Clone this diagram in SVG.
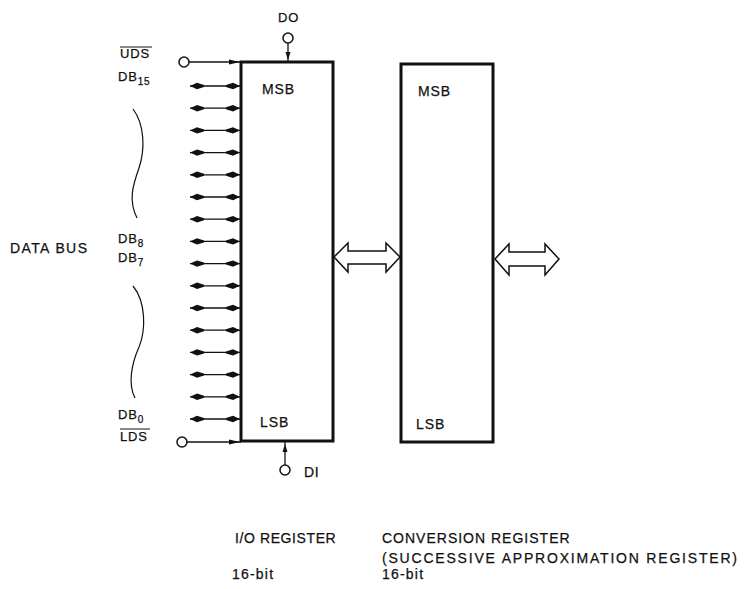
<svg xmlns="http://www.w3.org/2000/svg" width="744" height="589" viewBox="0 0 744 589">
<style>
text{font-family:"Liberation Sans",Arial,sans-serif;fill:#111;stroke:#111;stroke-width:0.25}
.t{font-size:13px;letter-spacing:0.8px}
.c{font-size:14px;letter-spacing:0.6px}
.s{font-size:10px}
.box{fill:#fff;stroke:#111;stroke-width:3}
.ln{stroke:#111;stroke-width:1.3;fill:none}
.bi{stroke:#111;stroke-width:1.3;marker-start:url(#ah);marker-end:url(#ah)}
.circ{fill:#fff;stroke:#111;stroke-width:1.5}
.hollow{fill:#fff;stroke:#111;stroke-width:1.5;stroke-linejoin:miter}
.wave{fill:none;stroke:#111;stroke-width:1.2}
</style>
<defs>
<marker id="ah" viewBox="0 -4 14 8" refX="14" refY="0" markerWidth="14" markerHeight="8" markerUnits="userSpaceOnUse" orient="auto-start-reverse">
<path d="M14,0 L7,-3.2 L0,-1 L0,1 L7,3.2 Z" fill="#111"/>
</marker>
</defs>

<g id="io-register">
<rect class="box" x="241" y="62" width="92" height="379"/>
<text class="c" x="262" y="94" style="letter-spacing:0.9px">MSB</text>
<text class="c" x="260" y="427" style="letter-spacing:0.9px">LSB</text>
</g>

<g id="conversion-register">
<rect class="box" x="401" y="64" width="92" height="378"/>
<text class="c" x="418" y="96" style="letter-spacing:0.9px">MSB</text>
<text class="c" x="416" y="429" style="letter-spacing:0.9px">LSB</text>
</g>

<g id="do">
<circle class="circ" cx="288" cy="38" r="5"/>
<text class="t" x="278" y="22">DO</text>
</g>

<g id="di">
<circle class="circ" cx="285" cy="470" r="5"/>
<text class="c" x="304" y="477">DI</text>
</g>

<g id="uds">
<circle class="circ" cx="184" cy="62" r="5"/>
<text class="t" x="120" y="58">UDS</text>
<line x1="120" y1="47" x2="152" y2="47" stroke="#111" stroke-width="1"/>
</g>

<g id="lds">
<circle class="circ" cx="182" cy="442" r="5"/>
<text class="t" x="120" y="441">LDS</text>
<line x1="120" y1="429" x2="150" y2="429" stroke="#111" stroke-width="1"/>
</g>

<g id="labels">
<text class="t" x="118" y="81">DB<tspan class="s" dy="4">15</tspan></text>
<text class="t" x="118" y="243">DB<tspan class="s" dy="4">8</tspan></text>
<text class="t" x="118" y="262">DB<tspan class="s" dy="4">7</tspan></text>
<text class="t" x="118" y="419">DB<tspan class="s" dy="4">0</tspan></text>
<text x="10" y="253" style="font-size:14px;letter-spacing:1.4px">DATA BUS</text>
<path class="wave" d="M133,109 C145,125 145,150 139,168 C133,185 128,200 137,218"/>
<path class="wave" d="M133,286 C146,302 146,330 139,347 C131,365 128,385 135,398"/>
</g>

<g id="connectors">
<line class="ln" x1="189" y1="62" x2="241" y2="62"/>
<path d="M240,62 L229,59.5 L229,64.5 Z" fill="#111"/>
<line class="ln" x1="187" y1="442" x2="241" y2="442"/>
<path d="M240,442 L229,439.5 L229,444.5 Z" fill="#111"/>
<line class="ln" x1="288" y1="43" x2="288" y2="62"/>
<path d="M288,60 L285.5,52 L290.5,52 Z" fill="#111"/>
<line class="ln" x1="285" y1="441" x2="285" y2="465"/>
<path d="M285,444 L282.5,452 L287.5,452 Z" fill="#111"/>
<g>
<line class="bi" x1="190" y1="86" x2="240" y2="86"/>
<line class="bi" x1="190" y1="108.2" x2="240" y2="108.2"/>
<line class="bi" x1="190" y1="130.4" x2="240" y2="130.4"/>
<line class="bi" x1="190" y1="152.6" x2="240" y2="152.6"/>
<line class="bi" x1="190" y1="174.8" x2="240" y2="174.8"/>
<line class="bi" x1="190" y1="197" x2="240" y2="197"/>
<line class="bi" x1="190" y1="219.2" x2="240" y2="219.2"/>
<line class="bi" x1="190" y1="241.4" x2="240" y2="241.4"/>
<line class="bi" x1="190" y1="263.6" x2="240" y2="263.6"/>
<line class="bi" x1="190" y1="285.8" x2="240" y2="285.8"/>
<line class="bi" x1="190" y1="308" x2="240" y2="308"/>
<line class="bi" x1="190" y1="330.2" x2="240" y2="330.2"/>
<line class="bi" x1="190" y1="352.4" x2="240" y2="352.4"/>
<line class="bi" x1="190" y1="374.6" x2="240" y2="374.6"/>
<line class="bi" x1="190" y1="396.8" x2="240" y2="396.8"/>
<line class="bi" x1="190" y1="419" x2="240" y2="419"/>
</g>
<path class="hollow" d="M334,257 L348,243 L348,251 L386,251 L386,243 L400,257 L386,272 L386,264 L348,264 L348,272 Z"/>
<path class="hollow" d="M495,259 L509,244 L509,252 L545,252 L545,244 L559,259 L545,275 L545,266 L509,266 L509,275 Z"/>
</g>

<g id="captions">
<text class="c" x="235" y="543">I/O REGISTER</text>
<text class="c" x="382" y="543" style="letter-spacing:1px">CONVERSION REGISTER</text>
<text class="c" x="382" y="563" style="letter-spacing:1.8px">(SUCCESSIVE APPROXIMATION REGISTER)</text>
<text class="c" x="232" y="579" style="letter-spacing:1.2px">16-bit</text>
<text class="c" x="382" y="579" style="letter-spacing:1.2px">16-bit</text>
</g>
</svg>
